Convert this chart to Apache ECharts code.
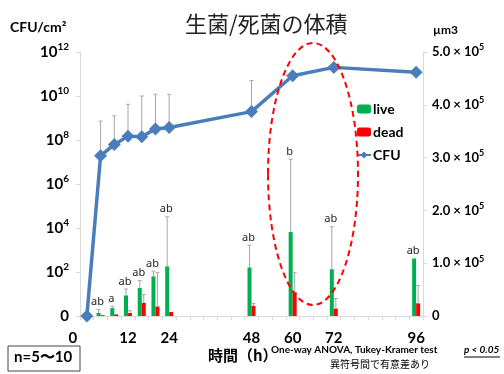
<!DOCTYPE html>
<html>
<head>
<meta charset="utf-8">
<script src="https://cdn.jsdelivr.net/npm/echarts@6/dist/echarts.min.js"></script>
<style>
    html, body {margin: 0; padding: 0; background: #fff;}
    #chart {width: 504px; height: 374px;}
</style>
</head>
<body>
<div id="chart"></div>
<script>
// x categories (hours, one per 4h step)
const categories = ['0', '4', '8', '12', '16', '20', '24', '28', '32', '36', '40', '44', '48',
    '52', '56', '60', '64', '68', '72', '76', '80', '84', '88', '92', '96'];
const shownHours = ['0', '12', '24', '48', '60', '72', '96'];

// CFU (left axis, drawn in decades)
const cfuHours = ['0', '4', '8', '12', '16', '20', '24', '48', '60', '72', '96'];
const cfuValues = [1, 1.9e7, 6.3e7, 1.5e8, 1.4e8, 3.2e8, 3.7e8, 1.95e9, 8.3e10, 2.0e11, 1.2e11];
const cfuErrTop = [null, 7.2e8, 1.26e9, 4.2e9, 1.0e10, 1.2e10, 1.2e10, 5.0e10, null, null, null];

// volumes (right axis, µm3)
const barHours = ['4', '8', '12', '16', '20', '24', '48', '60', '72', '96'];
const liveValues = [5.7e3, 1.5e4, 3.9e4, 5.3e4, 7.5e4, 9.4e4, 9.2e4, 1.59e5, 8.85e4, 1.09e5];
const liveErrTop = [1.2e4, 1.85e4, 5.1e4, 6.7e4, 8.5e4, 1.88e5, 1.34e5, 2.97e5, 1.69e5, null];
const deadValues = [1.5e3, 3e3, 5.7e3, 2.5e4, 1.8e4, 7.6e3, 1.9e4, 4.5e4, 1.4e4, 2.4e4];
const deadErrTop = [null, null, 1.0e4, 4.05e4, 8.2e4, null, 2.35e4, 8.2e4, 3.3e4, 5.75e4];
const letters = ['ab', 'a', 'ab', 'ab', 'ab', 'ab', 'ab', 'b', 'ab', 'ab'];

const LATIN = 'Lato, "Noto Sans", sans-serif';
const JP = '"Noto Sans CJK JP", sans-serif';
const ERR_COLOR = '#a6a6a6';

// the left axis is in decades: log10 of CFU
const toDecade = v => (v == null ? null : Math.log10(v));
const cfuDecades = cfuValues.map(toDecade);
const cfuErrDecades = cfuErrTop.map(toDecade);

function errorBars(tops, dx, withLetters) {
    return function (params, api) {
        let i = params.dataIndex;
        let base = api.coord([api.value(0), api.value(1)]);
        let x = base[0] + dx;
        let topY = base[1];
        let children = [];
        if (tops[i] != null) {
            let t = api.coord([api.value(0), tops[i]]);
            topY = t[1];
            children.push({type: 'line', shape: {x1: x, y1: base[1], x2: x, y2: t[1]},
                style: {stroke: ERR_COLOR, lineWidth: 1}});
            children.push({type: 'line', shape: {x1: x - 2, y1: t[1], x2: x + 2, y2: t[1]},
                style: {stroke: ERR_COLOR, lineWidth: 1}});
        }
        if (withLetters) {
            children.push({type: 'text', x: x - 1, y: topY - 2,
                style: {text: letters[i], align: 'center', verticalAlign: 'bottom',
                    fontSize: 11, fontFamily: '"Noto Sans", sans-serif', fill: '#222'}});
        }
        return {type: 'group', children: children};
    };
}

let chart = echarts.init(document.getElementById('chart'));
chart.setOption({
    animation: false,
    backgroundColor: '#fff',
    title: {
        text: '生菌/死菌の体積',
        left: 180,
        top: 8,
        textStyle: {fontFamily: JP, fontSize: 22, fontWeight: 'normal', color: '#222'}
    },
    legend: {
        orient: 'vertical',
        left: 351,
        top: 97,
        itemWidth: 14,
        itemHeight: 9,
        itemGap: 9,
        data: ['live', 'dead', 'CFU'],
        textStyle: {fontFamily: LATIN, fontSize: 14, fontWeight: 'bold', color: '#000', padding: [0, 0, 0, -3]}
    },
    grid: {left: 80, right: 81, top: 52, bottom: 58},
    xAxis: {
        type: 'category',
        data: categories,
        boundaryGap: true,
        axisLine: {lineStyle: {color: '#d9d9d9'}},
        axisTick: {show: true, interval: 0, length: 4, lineStyle: {color: '#d9d9d9'}},
        axisLabel: {
            interval: 0,
            margin: 15,
            fontFamily: LATIN,
            fontSize: 15,
            fontWeight: 'bold',
            color: '#000',
            formatter: function (v) {
                if (shownHours.indexOf(v) < 0) return '';
                if (v === '0') return '{z|0}';
                return v;
            },
            rich: {z: {fontFamily: LATIN, fontSize: 15, fontWeight: 'bold', color: '#000', padding: [0, 28, 0, 0]}}
        }
    },
    yAxis: [
        {
            type: 'value',
            min: 0,
            max: 12,
            interval: 2,
            axisLine: {show: true, lineStyle: {color: '#d9d9d9'}},
            axisTick: {show: true, length: 4, lineStyle: {color: '#d9d9d9'}},
            splitLine: {show: false},
            axisLabel: {
                margin: 11,
                formatter: function (e) {
                    if (e === 0) return '{b|0}';
                    return '{b|10}{s|' + e + '}';
                },
                rich: {
                    b: {fontFamily: LATIN, fontSize: 15, fontWeight: 'bold', color: '#000', lineHeight: 20},
                    s: {fontFamily: LATIN, fontSize: 10, fontWeight: 'bold', color: '#000', lineHeight: 12, verticalAlign: 'top'}
                }
            }
        },
        {
            type: 'value',
            min: 0,
            max: 5e5,
            interval: 1e5,
            axisLine: {show: true, lineStyle: {color: '#d9d9d9'}},
            axisTick: {show: true, length: 4, lineStyle: {color: '#d9d9d9'}},
            splitLine: {show: false},
            axisLabel: {
                margin: 9,
                formatter: function (v) {
                    if (v === 0) return '{b|0}';
                    return '{b|' + (v / 1e5).toFixed(1) + ' × 10}{s|5}';
                },
                rich: {
                    b: {fontFamily: LATIN, fontSize: 13, fontWeight: 'bold', color: '#000', lineHeight: 18},
                    s: {fontFamily: LATIN, fontSize: 9, fontWeight: 'bold', color: '#000', lineHeight: 11, verticalAlign: 'top'}
                }
            }
        }
    ],
    graphic: [
        {type: 'text', left: 10, top: 20, style: {text: 'CFU/cm²', fontFamily: LATIN, fontSize: 14, fontWeight: 'bold', fill: '#000'}},
        {type: 'text', left: 433, top: 24, style: {text: 'µm3', fontFamily: LATIN, fontSize: 12, fontWeight: 'bold', fill: '#000'}},
        {type: 'ellipse', shape: {cx: 313, cy: 174, rx: 45, ry: 131}, z: 20,
            style: {fill: 'none', stroke: '#ff0000', lineWidth: 2, lineDash: [6, 4]}},
        {type: 'rect', shape: {x: 8, y: 346, width: 72, height: 25},
            style: {fill: '#fff', stroke: '#444', lineWidth: 1}},
        {type: 'text', left: 14, top: 350, style: {text: 'n=5〜10', fontFamily: LATIN, fontSize: 15, fontWeight: 'bold', fill: '#000'}},
        {type: 'text', left: 208, top: 348, style: {text: '時間（h）', fontFamily: JP, fontSize: 15, fontWeight: 'bold', fill: '#000'}},
        {type: 'text', left: 271, top: 345, style: {text: 'One-way ANOVA, Tukey-Kramer test', fontFamily: LATIN, fontSize: 10, fontWeight: 'bold', fill: '#000'}},
        {type: 'text', left: 464, top: 345, style: {text: 'p < 0.05', fontFamily: LATIN, fontSize: 10, fontWeight: 'bold', fontStyle: 'italic', fill: '#000'}},
        {type: 'line', shape: {x1: 464, y1: 357, x2: 500, y2: 357}, style: {stroke: '#000', lineWidth: 1}},
        {type: 'text', left: 330, top: 359, style: {text: '異符号間で有意差あり', fontFamily: JP, fontSize: 10, fill: '#000'}}
    ],
    series: [
        {
            name: 'live',
            type: 'bar',
            yAxisIndex: 1,
            barWidth: 4,
            barGap: '0%',
            itemStyle: {color: '#00b050'},
            data: barHours.map((h, i) => [h, liveValues[i]])
        },
        {
            name: 'dead',
            type: 'bar',
            yAxisIndex: 1,
            barWidth: 4,
            barGap: '0%',
            itemStyle: {color: '#ff0000'},
            data: barHours.map((h, i) => [h, deadValues[i]])
        },
        {
            name: 'liveErr',
            type: 'custom',
            yAxisIndex: 1,
            z: 3,
            renderItem: errorBars(liveErrTop, -2, true),
            data: barHours.map((h, i) => [h, liveValues[i]])
        },
        {
            name: 'deadErr',
            type: 'custom',
            yAxisIndex: 1,
            z: 3,
            renderItem: errorBars(deadErrTop, 2, false),
            data: barHours.map((h, i) => [h, deadValues[i]])
        },
        {
            name: 'cfuErr',
            type: 'custom',
            yAxisIndex: 0,
            z: 1,
            renderItem: errorBars(cfuErrDecades, 0, false),
            data: cfuHours.map((h, i) => [h, cfuDecades[i]])
        },
        {
            name: 'CFU',
            type: 'line',
            yAxisIndex: 0,
            z: 5,
            symbol: 'diamond',
            symbolSize: 13,
            connectNulls: true,
            lineStyle: {color: '#4a7ebb', width: 3.5},
            itemStyle: {color: '#4a7ebb'},
            data: cfuHours.map((h, i) => [h, cfuDecades[i]])
        }
    ]
});
</script>
</body>
</html>
